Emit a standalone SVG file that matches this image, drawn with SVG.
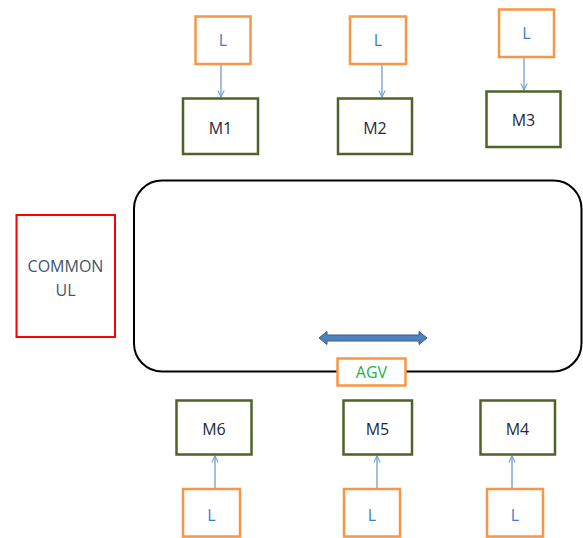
<svg xmlns="http://www.w3.org/2000/svg" width="583" height="538" viewBox="0 0 583 538">
<defs>
<style>
.l rect{fill:#fff;stroke:#F79646;stroke-width:2.5}
.m rect{fill:#fff;stroke:#4F6228;stroke-width:2.5}
.t{font-family:"Open Sans","Noto Sans","Liberation Sans",sans-serif;font-size:16px;text-anchor:middle;dominant-baseline:central}
.lt{fill:#3A7BD5}
.mt{fill:#1F2A3C}
.c line{stroke:#6F9BD4;stroke-width:1.3;marker-end:url(#ah)}
</style>
<marker id="ah" viewBox="0 0 10 10" refX="9" refY="5" markerWidth="8" markerHeight="8" markerUnits="userSpaceOnUse" orient="auto">
<path d="M1,1 L9,5 L1,9" fill="none" stroke="#6F9BD4" stroke-width="1.3"/>
</marker>
</defs>
<rect width="583" height="538" fill="#fff"/>

<g id="track">
<rect x="134" y="180.5" width="447.5" height="191" rx="28" ry="28" fill="none" stroke="#000" stroke-width="2"/>
</g>

<g id="common-ul">
<rect x="16.5" y="215" width="98.5" height="122" fill="#fff" stroke="#FF0000" stroke-width="2"/>
<text class="t" x="65.5" y="266" fill="#44546A">COMMON</text>
<text class="t" x="65.5" y="290" fill="#44546A">UL</text>
</g>

<g id="double-arrow">
<path d="M319,338 L327,331.5 L327,335 L419,335 L419,331.5 L427,338 L419,344.5 L419,341 L327,341 L327,344.5 Z" fill="#4F81BD" stroke="#385D8A" stroke-width="1"/>
</g>

<g id="agv">
<rect x="337.5" y="358.5" width="68" height="27" fill="#fff" stroke="#F79646" stroke-width="2.5"/>
<text class="t" x="371.5" y="372" fill="#22B14C">AGV</text>
</g>

<g id="connectors" class="c">
<line x1="221" y1="65" x2="221" y2="97"/>
<line x1="382" y1="65" x2="382" y2="97"/>
<line x1="524" y1="58" x2="524" y2="90"/>
<line x1="215" y1="488" x2="215" y2="456"/>
<line x1="377" y1="488" x2="377" y2="456"/>
<line x1="512" y1="488" x2="512" y2="456"/>
</g>

<g id="L1" class="l"><rect x="195.5" y="16.5" width="55" height="47.5"/><text class="t lt" x="223" y="40">L</text></g>
<g id="L2" class="l"><rect x="350" y="16.5" width="56" height="47.5"/><text class="t lt" x="378" y="40">L</text></g>
<g id="L3" class="l"><rect x="499" y="9.5" width="55" height="47.5"/><text class="t lt" x="526.5" y="33">L</text></g>

<g id="M1" class="m"><rect x="183" y="98.5" width="75" height="55.5"/><text class="t mt" x="220.5" y="128">M1</text></g>
<g id="M2" class="m"><rect x="338" y="98.5" width="74" height="55.5"/><text class="t mt" x="375" y="128">M2</text></g>
<g id="M3" class="m"><rect x="486.5" y="91.5" width="74" height="55.5"/><text class="t mt" x="523.5" y="120">M3</text></g>

<g id="M6" class="m"><rect x="176.5" y="400.5" width="75" height="54"/><text class="t mt" x="214" y="429">M6</text></g>
<g id="M5" class="m"><rect x="343.5" y="400.5" width="68.5" height="54"/><text class="t mt" x="377.5" y="429">M5</text></g>
<g id="M4" class="m"><rect x="480.5" y="400.5" width="74.5" height="54"/><text class="t mt" x="517.5" y="429">M4</text></g>

<g id="L6" class="l"><rect x="183" y="489" width="57" height="47.5"/><text class="t lt" x="211.5" y="515">L</text></g>
<g id="L5" class="l"><rect x="344" y="489" width="56" height="47.5"/><text class="t lt" x="372" y="515">L</text></g>
<g id="L4" class="l"><rect x="487" y="489" width="56" height="47.5"/><text class="t lt" x="515" y="515">L</text></g>
</svg>
